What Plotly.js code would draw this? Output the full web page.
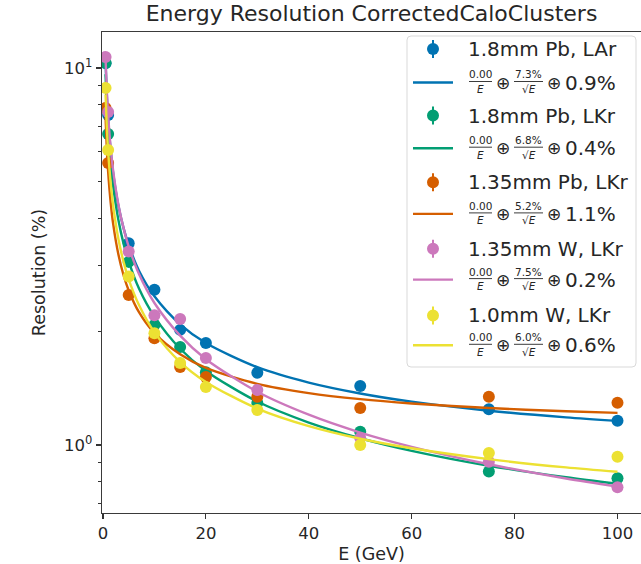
<!DOCTYPE html>
<html><head><meta charset="utf-8">
<script src="https://cdn.plot.ly/plotly-3.0.1.min.js"></script>
<style>html,body{margin:0;padding:0;background:#fff}</style>
</head><body><div id="chart" style="width:641px;height:564px"></div>
<script>
// ---- data ----
const energies = [0.5, 1, 5, 10, 15, 20, 30, 50, 75, 100];
const resPb18LAr  = [10.3, 7.50, 3.43, 2.58, 2.02, 1.865, 1.555, 1.434, 1.244, 1.160];
const resPb18LKr  = [10.31, 6.68, 3.06, 2.08, 1.82, 1.56, 1.292, 1.085, 0.850, 0.816];
const resPb135LKr = [7.83, 5.60, 2.50, 1.92, 1.61, 1.515, 1.343, 1.254, 1.343, 1.295];
const resW135LKr  = [10.69, 7.64, 3.26, 2.21, 2.16, 1.70, 1.40, 1.044, 0.903, 0.772];
const resW10LKr   = [8.85, 6.06, 2.80, 1.98, 1.65, 1.425, 1.238, 1.00, 0.952, 0.931];

const fitEnergies = [0.5, 0.75, 1, 1.5, 2, 3, 4, 5, 7, 10, 15, 20, 30, 40, 50, 60, 75, 90, 100];
const fitPb18LAr  = [10.36, 8.48, 7.36, 6.03, 5.24, 4.31, 3.76, 3.39, 2.90, 2.48, 2.09, 1.864, 1.608, 1.464, 1.370, 1.303, 1.233, 1.184, 1.159];
const fitPb18LKr  = [9.63, 7.86, 6.81, 5.57, 4.83, 3.95, 3.42, 3.07, 2.60, 2.19, 1.80, 1.572, 1.304, 1.147, 1.042, 0.965, 0.881, 0.821, 0.789];
const fitPb135LKr = [7.44, 6.10, 5.32, 4.39, 3.84, 3.20, 2.82, 2.57, 2.25, 1.98, 1.74, 1.601, 1.453, 1.373, 1.323, 1.289, 1.253, 1.229, 1.217];
const fitW135LKr  = [10.61, 8.66, 7.50, 6.13, 5.31, 4.34, 3.76, 3.36, 2.84, 2.38, 1.95, 1.689, 1.384, 1.203, 1.079, 0.989, 0.889, 0.815, 0.776];
const fitW10LKr   = [8.51, 6.95, 6.03, 4.94, 4.29, 3.52, 3.06, 2.75, 2.35, 1.99, 1.66, 1.470, 1.249, 1.122, 1.039, 0.980, 0.917, 0.872, 0.849];

const seriesLabels = ['1.8mm Pb, LAr', '1.8mm Pb, LKr', '1.35mm Pb, LKr', '1.35mm W, LKr', '1.0mm W, LKr'];
const noiseTerms = ['0.00', '0.00', '0.00', '0.00', '0.00'];
const stochasticTerms = ['7.3%', '6.8%', '5.2%', '7.5%', '6.0%'];
const constantTerms = ['0.9%', '0.4%', '1.1%', '0.2%', '0.6%'];
const xTickVals = [0, 20, 40, 60, 80, 100];
const yTickVals = [1, 10];
const yTickText = ['10<sup>0</sup>', '10<sup>1</sup>'];
const yMinorVals = [0.7, 0.8, 0.9, 2, 3, 4, 5, 6, 7, 8, 9];

// ---- styling ----
const colors = ['#0173b2', '#029e73', '#d55e00', '#cc78bc', '#ece133'];
const pointSets = [resPb18LAr, resPb18LKr, resPb135LKr, resW135LKr, resW10LKr];
const fitSets = [fitPb18LAr, fitPb18LKr, fitPb135LKr, fitW135LKr, fitW10LKr];
const FONT = 'DejaVu Sans, Verdana, sans-serif';
const TXT = '#262626';

const traces = [];
for (let i = 0; i < pointSets.length; i++) {
  traces.push({x: energies, y: pointSets[i], type: 'scatter', mode: 'markers',
    marker: {color: colors[i], size: 12}, hoverinfo: 'x+y', name: seriesLabels[i]});
  traces.push({x: fitEnergies, y: fitSets[i], type: 'scatter', mode: 'lines',
    line: {color: colors[i], width: 2.4, shape: 'spline', smoothing: 0.8}, name: 'fit ' + seriesLabels[i]});
}

// plot area in pixels
const L = 102, R = 641, T = 32, B = 513;
const px = p => (p - L) / (R - L);
const py = p => (B - p) / (B - T);

const shapes = [];
const annotations = [];
// legend frame
(function(){
  const x0 = px(407), x1 = px(636), y0 = py(367), y1 = py(36);
  const rx = 4 / (R - L), ry = 4 / (B - T);
  shapes.push({type: 'path', xref: 'paper', yref: 'paper', layer: 'above',
    path: `M ${x0+rx},${y1} L ${x1-rx},${y1} Q ${x1},${y1} ${x1},${y1-ry} L ${x1},${y0+ry} Q ${x1},${y0} ${x1-rx},${y0} L ${x0+rx},${y0} Q ${x0},${y0} ${x0},${y0+ry} L ${x0},${y1-ry} Q ${x0},${y1} ${x0+rx},${y1} Z`,
    line: {color: '#d9d9d9', width: 1}, fillcolor: 'rgba(255,255,255,0.85)'});
})();
for (let i = 0; i < seriesLabels.length; i++) {
  const my = 49 + 66.6 * i;      // marker row
  const fy = 82.5 + 65.7 * i;    // fit row
  const c = colors[i];
  shapes.push({type: 'line', xref: 'paper', yref: 'paper', layer: 'above',
    x0: px(433), x1: px(433), y0: py(my - 9), y1: py(my + 9), line: {color: c, width: 2}});
  shapes.push({type: 'circle', xref: 'paper', yref: 'paper', layer: 'above',
    x0: px(427), x1: px(439), y0: py(my + 6), y1: py(my - 6), fillcolor: c, line: {width: 0}});
  shapes.push({type: 'line', xref: 'paper', yref: 'paper', layer: 'above',
    x0: px(413), x1: px(453), y0: py(fy), y1: py(fy), line: {color: c, width: 2.4}});
  shapes.push({type: 'line', xref: 'paper', yref: 'paper', layer: 'above',
    x0: px(469), x1: px(492), y0: py(fy - 1), y1: py(fy - 1), line: {color: TXT, width: 0.9}});
  shapes.push({type: 'line', xref: 'paper', yref: 'paper', layer: 'above',
    x0: px(514), x1: px(543), y0: py(fy - 1), y1: py(fy - 1), line: {color: TXT, width: 0.9}});

  const ann = (text, x, y, size, xanchor) => annotations.push({text, x: px(x), y: py(y),
    xref: 'paper', yref: 'paper', xanchor: xanchor || 'center', yanchor: 'middle',
    showarrow: false, font: {family: FONT, size, color: TXT}});
  ann(seriesLabels[i], 466, my, 20, 'left');
  ann(noiseTerms[i], 480.5, fy - 8, 10.5);
  ann('<i>E</i>', 480.5, fy + 6.5, 10.5);
  ann('⊕', 503, fy, 17);
  ann(stochasticTerms[i], 528.5, fy - 8, 10.5);
  ann('√<i>E</i>', 528.5, fy + 6.5, 10.5);
  ann('⊕', 554, fy, 17);
  ann(constantTerms[i], 563, fy, 20, 'left');
}

const layout = {
  width: 641, height: 564,
  margin: {l: L, r: 641 - R, t: T, b: 564 - B, pad: 0},
  paper_bgcolor: '#ffffff', plot_bgcolor: '#ffffff',
  font: {family: FONT, color: TXT},
  showlegend: false,
  title: {text: 'Energy Resolution CorrectedCaloClusters', font: {family: FONT, size: 22, color: TXT},
    xref: 'paper', x: 0.5, xanchor: 'center', yref: 'container', y: 1 - 13 / 564, yanchor: 'middle'},
  xaxis: {range: [-0.19, 104.57], tickvals: xTickVals, ticks: 'outside', ticklen: 5, tickwidth: 1.2,
    tickcolor: '#333', showline: true, linecolor: '#3a3a3a', linewidth: 1.3, mirror: true,
    showgrid: false, zeroline: false, tickfont: {size: 16.5, family: FONT, color: TXT},
    title: {text: 'E (GeV)', font: {size: 17.5, family: FONT, color: TXT}, standoff: 6}},
  yaxis: {type: 'log', range: [-0.1804, 1.0955], tickvals: yTickVals, ticktext: yTickText,
    ticks: 'outside', ticklen: 5, tickwidth: 1.2, tickcolor: '#333',
    minor: {tickvals: yMinorVals, ticks: 'outside', ticklen: 3, tickwidth: 1, tickcolor: '#333', showgrid: false},
    showline: true, linecolor: '#3a3a3a', linewidth: 1.3, mirror: false,
    showgrid: false, zeroline: false, tickfont: {size: 16.5, family: FONT, color: TXT},
    title: {text: 'Resolution (%)', font: {size: 17.5, family: FONT, color: TXT}, standoff: 14}},
  shapes, annotations
};
Plotly.newPlot('chart', traces, layout, {displayModeBar: false, staticPlot: true});
</script></body></html>
